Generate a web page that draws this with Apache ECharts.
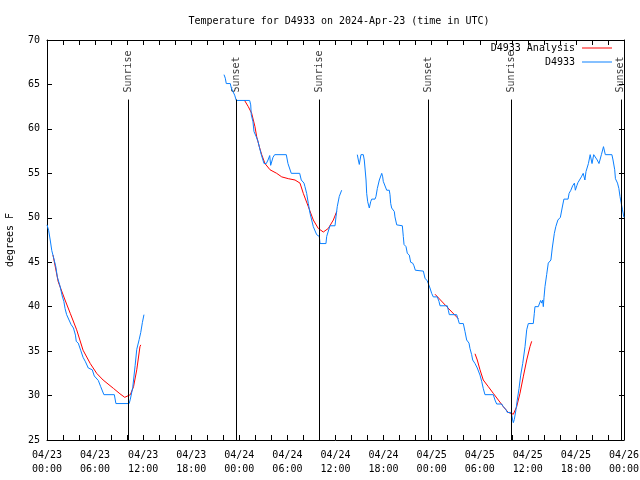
<!DOCTYPE html>
<html>
<head>
<meta charset="utf-8">
<script src="https://cdn.jsdelivr.net/npm/echarts@6/dist/echarts.min.js"></script>
<style>html,body{margin:0;padding:0;background:#fff}#c{width:640px;height:480px}</style>
</head>
<body>
<div id="c"></div>
<script>
// ---- data (hours since 2024-04-23 00:00 UTC, degrees F) ----
const tickLabels = ['04/23\n00:00','04/23\n06:00','04/23\n12:00','04/23\n18:00','04/24\n00:00','04/24\n06:00','04/24\n12:00','04/24\n18:00','04/25\n00:00','04/25\n06:00','04/25\n12:00','04/25\n18:00','04/26\n00:00'];

const obsSeg1 = [[0.0,49.2],[0.2,48.6],[0.4,47.5],[0.6,46.3],[0.8,45.6],[1.1,44.5],[1.3,43.3],[1.6,42.4],[1.9,41.2],[2.1,40.6],[2.25,39.8],[2.45,39.1],[2.75,38.5],[3.0,38.0],[3.3,37.6],[3.55,36.8],[3.65,36.1],[3.9,35.9],[4.2,35.1],[4.5,34.3],[4.8,33.8],[5.15,33.1],[5.65,32.9],[5.9,32.2],[6.4,31.7],[6.7,31.0],[7.1,30.1],[8.4,30.1],[8.6,29.1],[10.25,29.1],[10.4,29.6],[10.7,30.9],[11.0,33.4],[11.2,35.2],[11.5,36.3],[11.7,37.1],[11.9,38.2],[12.1,39.1]];
const obsSeg2 = [[22.09,66.1],[22.25,65.7],[22.37,65.1],[22.87,65.1],[23.0,64.6],[23.2,64.2],[23.42,63.8],[23.62,63.2],[25.29,63.2],[25.42,62.7],[25.49,61.6],[25.7,60.8],[25.83,59.7],[26.12,59.1],[26.33,58.6],[26.54,57.8],[26.74,57.1],[27.08,56.1],[27.36,56.1],[27.58,56.5],[27.79,57.0],[27.91,55.9],[28.2,56.8],[28.41,57.1],[29.86,57.1],[30.07,56.1],[30.29,55.9],[30.48,55.0],[31.53,55.0],[31.73,54.25],[32.07,53.9],[32.19,53.5],[32.4,52.75],[32.61,51.6],[32.82,50.5],[33.03,49.75],[33.23,49.0],[33.65,48.1],[33.98,47.9],[34.07,47.1],[34.81,47.1],[34.9,47.9],[35.31,49.1],[35.94,49.1],[36.06,50.1],[36.22,51.25],[36.47,52.4],[36.77,53.1]];
const obsSeg3 = [[38.72,57.1],[38.85,56.5],[38.97,56.0],[39.18,57.1],[39.47,57.1],[39.59,56.5],[39.68,55.6],[39.81,54.25],[39.89,52.75],[40.02,51.8],[40.22,51.1],[40.39,51.8],[40.52,52.1],[40.93,52.1],[41.05,52.4],[41.22,53.3],[41.47,54.25],[41.77,55.0],[41.89,54.6],[41.96,54.1],[42.18,53.9],[42.39,53.1],[42.71,53.1],[42.8,52.6],[42.89,51.6],[43.01,51.1],[43.21,51.1],[43.34,50.7],[43.42,50.1],[43.64,49.2],[43.76,49.1],[44.34,49.1],[44.46,47.9],[44.55,47.0],[44.8,46.75],[44.96,46.0],[45.21,45.8],[45.38,45.0],[45.63,44.9],[45.79,44.6],[45.96,44.1],[46.96,44.0],[47.17,43.2],[47.45,42.9],[47.58,42.6],[47.79,42.1],[48.0,41.5],[48.2,41.1],[48.7,41.1],[48.91,40.6],[49.04,40.1],[49.95,40.1],[50.08,39.6],[50.2,39.1],[51.12,39.1],[51.32,38.5],[51.45,38.1],[51.95,38.1],[52.16,37.2],[52.37,36.25],[52.66,35.9],[52.78,35.3],[52.99,34.6],[53.12,34.0],[53.41,33.6],[53.69,33.1],[54.03,32.3],[54.24,31.6],[54.44,30.8],[54.65,30.1],[55.69,30.1],[55.9,29.5],[56.11,29.05],[56.74,29.05],[56.94,28.75],[57.28,28.4],[57.44,28.1],[57.86,28.1],[57.99,27.8],[58.11,27.25],[58.19,26.95],[58.31,27.3],[58.52,28.4],[58.68,29.5],[58.9,30.8],[59.11,32.3],[59.36,33.6],[59.65,35.5],[59.86,37.4],[60.06,38.1],[60.68,38.1],[60.81,39.25],[60.89,40.0],[61.31,40.0],[61.43,40.3],[61.6,40.7],[61.73,40.4],[61.85,40.75],[61.93,40.0],[62.02,41.05],[62.14,42.25],[62.35,43.6],[62.55,44.9],[62.88,45.25],[63.05,46.6],[63.31,48.25],[63.49,49.0],[63.75,49.75],[64.06,50.05],[64.28,51.1],[64.5,52.1],[65.02,52.1],[65.15,52.75],[65.37,53.1],[65.59,53.6],[65.81,53.9],[65.93,53.1],[66.11,53.6],[66.25,53.95],[66.46,54.1],[66.68,54.6],[66.91,55.0],[67.12,54.25],[67.26,55.2],[67.56,56.1],[67.78,57.1],[68.01,56.1],[68.22,57.1],[68.43,57.1],[68.66,56.5],[68.88,56.1],[69.18,57.1],[69.44,58.0],[69.67,57.1],[70.49,57.1],[70.63,56.5],[70.84,55.4],[70.93,54.4],[71.19,53.9],[71.36,53.3],[71.5,52.4],[71.64,51.7],[71.81,50.9],[71.99,50.05]];

const anaSeg1 = [[0.75,45.8],[1.4,42.8],[2.25,40.75],[2.9,39.25],[3.7,37.4],[4.5,35.1],[5.4,33.6],[6.2,32.5],[7.0,31.75],[8.3,30.8],[9.1,30.2],[9.7,29.8],[10.4,30.1],[10.6,30.2],[10.8,31.0],[11.2,32.9],[11.6,35.5],[11.7,35.7]];
const anaSeg2 = [[24.62,63.25],[25.12,62.5],[25.54,61.75],[25.95,60.25],[26.17,59.1],[26.49,58.0],[26.79,57.1],[27.2,56.1],[27.83,55.4],[28.66,55.0],[29.29,54.6],[30.11,54.4],[30.95,54.25],[31.57,53.9],[31.98,52.75],[32.61,51.25],[33.23,49.75],[33.85,48.8],[34.48,48.4],[35.1,48.8],[35.73,49.75],[36.15,50.7]];
const anaSeg3 = [[48.42,41.4],[49.88,40.0],[51.32,38.65]];
const anaSeg4 = [[53.41,34.7],[53.69,34.0],[54.03,32.9],[54.44,31.75],[55.07,31.0],[55.69,30.25],[56.32,29.5],[56.94,28.75],[57.56,28.1],[58.19,27.9],[58.4,27.9],[58.61,28.75],[59.02,30.25],[59.43,32.1],[59.86,34.0],[60.27,35.5],[60.48,36.1]];

const sunHours = [10.15, 23.62, 33.94, 47.58, 57.94, 71.6];
const sunNames = ['Sunrise','Sunset','Sunrise','Sunset','Sunrise','Sunset'];
const sunLineTop = 63.3;

// ---- chart ----
const FONT = 'DejaVu Sans Mono';
const BLUE = '#0a80ff', RED = '#ff0000';
const chart = echarts.init(document.getElementById('c'), null, {renderer: 'canvas'});

function lineSeries(name, data, color) {
  return {
    name: name, type: 'line', data: data, symbol: 'none', animation: false,
    lineStyle: {color: color, width: 1}, itemStyle: {color: color},
    xAxisIndex: 0, yAxisIndex: 0, z: 3
  };
}

const series = [];
[anaSeg1, anaSeg2, anaSeg3, anaSeg4].forEach(s => series.push(lineSeries('D4933 Analysis', s, RED)));
[obsSeg1, obsSeg2, obsSeg3].forEach(s => series.push(lineSeries('D4933', s, BLUE)));

series.push({
  name: 'sun', type: 'scatter', symbolSize: 0, animation: false, silent: true,
  data: sunHours.map((h, i) => [h, sunLineTop, sunNames[i]]),
  label: {
    show: true, position: 'top', distance: 7, rotate: 90, align: 'left', verticalAlign: 'middle',
    formatter: p => p.value[2], color: '#000', fontFamily: FONT, fontSize: 10
  },
  markLine: {
    silent: true, symbol: 'none', animation: false,
    lineStyle: {color: '#000', width: 1, type: 'solid'},
    label: {show: false},
    data: sunHours.map(h => [{coord: [h, 25]}, {coord: [h, sunLineTop]}])
  },
  z: 2
});

const axisCommon = {
  axisLine: {show: true, onZero: false, lineStyle: {color: '#000', width: 1}},
  axisTick: {show: true, inside: true, length: 5, lineStyle: {color: '#000'}},
  splitLine: {show: false}
};

chart.setOption({
  animation: false,
  backgroundColor: '#fff',
  title: {
    text: 'Temperature for D4933 on 2024-Apr-23 (time in UTC)',
    left: 334, top: 11, textAlign: 'center',
    textStyle: {fontFamily: FONT, fontSize: 10, fontWeight: 'normal', color: '#000'}
  },
  legend: {
    data: [{name: 'D4933 Analysis', icon: 'rect'}, {name: 'D4933', icon: 'rect'}],
    orient: 'vertical', right: 23, top: 38, align: 'right',
    itemWidth: 30, itemHeight: 1, itemGap: 4,
    textStyle: {fontFamily: FONT, fontSize: 10, color: '#000', padding: [0, 2, 0, 0]},
    selectedMode: false
  },
  grid: {left: 47, right: 16, top: 40, bottom: 40, containLabel: false, outerBoundsMode: 'none'},
  xAxis: [
    Object.assign({}, axisCommon, {
      type: 'value', min: 0, max: 72, interval: 2, position: 'bottom',
      axisLabel: {
        show: true, margin: 8, lineHeight: 14, color: '#000', fontFamily: FONT, fontSize: 10,
        showMinLabel: true, showMaxLabel: true, hideOverlap: false,
        formatter: v => (v % 6 === 0 ? tickLabels[v / 6] : '')
      }
    }),
    Object.assign({}, axisCommon, {
      type: 'value', min: 0, max: 72, interval: 2, position: 'top', axisLabel: {show: false}
    })
  ],
  yAxis: [
    Object.assign({}, axisCommon, {
      type: 'value', min: 25, max: 70, interval: 5, position: 'left',
      name: 'degrees F', nameLocation: 'middle', nameGap: 32, nameRotate: 90,
      nameTextStyle: {fontFamily: FONT, fontSize: 10, color: '#000'},
      axisLabel: {show: true, margin: 7, color: '#000', fontFamily: FONT, fontSize: 10}
    }),
    Object.assign({}, axisCommon, {
      type: 'value', min: 25, max: 70, interval: 5, position: 'right', axisLabel: {show: false}
    })
  ],
  series: series
});
</script>
</body>
</html>
